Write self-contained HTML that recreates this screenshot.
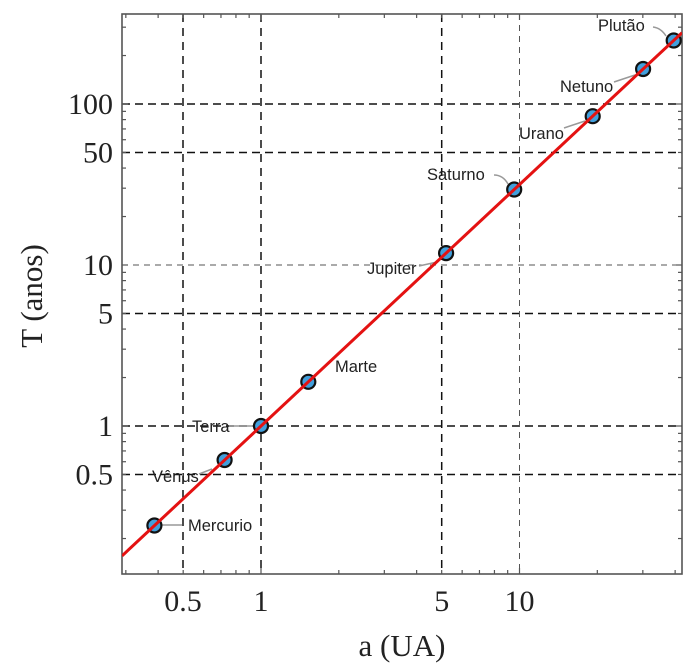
<!DOCTYPE html>
<html><head><meta charset="utf-8"><style>
html,body{margin:0;padding:0;background:#fff;}
svg{display:block;}
.tl{font-family:"Liberation Serif",serif;font-size:30px;fill:#222;}
.pl{font-family:"Liberation Sans",sans-serif;font-size:16.5px;fill:#222;}
</style></head><body>
<svg width="699" height="664" viewBox="0 0 699 664" xmlns="http://www.w3.org/2000/svg">
<rect width="699" height="664" fill="#fff"/>
<defs><clipPath id="c"><rect x="122" y="14" width="560" height="560"/></clipPath></defs>
<!-- grid -->
<g stroke="#111" stroke-width="1.5" stroke-dasharray="8 5" fill="none">
<line x1="122" y1="104" x2="682" y2="104"/>
<line x1="122" y1="152.5" x2="682" y2="152.5"/>
<line x1="122" y1="313.5" x2="682" y2="313.5"/>
<line x1="122" y1="426" x2="682" y2="426"/>
<line x1="122" y1="474.5" x2="682" y2="474.5"/>
</g>
<g stroke="#111" stroke-width="1.5" stroke-dasharray="8 6" fill="none">
<line x1="183" y1="14" x2="183" y2="574"/>
<line x1="261" y1="14" x2="261" y2="574"/>
<line x1="441.7" y1="14" x2="441.7" y2="574"/>
</g>
<g stroke="#555" stroke-width="1" stroke-dasharray="6 5" fill="none">
<line x1="122" y1="265" x2="682" y2="265"/>
<line x1="519.5" y1="14" x2="519.5" y2="574"/>
</g>
<!-- ticks -->
<g stroke="#555" stroke-width="1.2" id="ticks"></g>
<!-- frame -->
<rect x="122" y="14" width="560" height="560" fill="none" stroke="#555" stroke-width="1.6"/>
<!-- leaders -->
<g stroke="#999" stroke-width="1.5" fill="none">
<line x1="162" y1="525" x2="182" y2="525"/>
<line x1="199" y1="474" x2="212" y2="469"/>
<line x1="229" y1="426" x2="253" y2="426"/>
<line x1="419" y1="266" x2="437" y2="262"/>
<path d="M494 175 Q503 175 508 184"/>
<line x1="564" y1="128" x2="585" y2="121"/>
<line x1="614" y1="82" x2="635" y2="75"/>
<path d="M653 27 Q661 28 666 36"/>
</g>
<!-- points -->
<g fill="#419fdc" stroke="#111" stroke-width="2.2">
<circle cx="154.4" cy="525.5" r="7"/>
<circle cx="224.6" cy="460" r="7"/>
<circle cx="261" cy="426" r="7"/>
<circle cx="308.3" cy="381.8" r="7"/>
<circle cx="446.1" cy="253.1" r="7"/>
<circle cx="514.2" cy="189.5" r="7"/>
<circle cx="592.7" cy="116.2" r="7"/>
<circle cx="643.1" cy="69" r="7"/>
<circle cx="673.7" cy="40.5" r="7"/>
</g>
<!-- fit line -->
<line x1="122" y1="555.9" x2="682" y2="32.7" stroke="#e41212" stroke-width="3" clip-path="url(#c)"/>
<!-- planet labels -->
<text class="pl" x="188" y="531">Mercurio</text>
<text class="pl" x="152" y="482">Vênus</text>
<text class="pl" x="192" y="432">Terra</text>
<text class="pl" x="335" y="372">Marte</text>
<text class="pl" x="367" y="274">Jupiter</text>
<text class="pl" x="427" y="180">Saturno</text>
<text class="pl" x="519" y="139">Urano</text>
<text class="pl" x="560" y="92">Netuno</text>
<text class="pl" x="598" y="31">Plutão</text>
<!-- tick labels -->
<g class="tl" text-anchor="end">
<text x="113" y="114">100</text>
<text x="113" y="162.5">50</text>
<text x="113" y="275">10</text>
<text x="113" y="323.5">5</text>
<text x="113" y="436">1</text>
<text x="113" y="484.5">0.5</text>
</g>
<g class="tl" text-anchor="middle">
<text x="183" y="611">0.5</text>
<text x="261" y="611">1</text>
<text x="441.7" y="611">5</text>
<text x="519.5" y="611">10</text>
</g>
<text class="tl" x="402" y="656" text-anchor="middle" style="font-size:31px">a (UA)</text>
<text class="tl" transform="translate(42,296) rotate(-90)" text-anchor="middle" style="font-size:31px">T (anos)</text>
<script>
(function(){
var g=document.getElementById('ticks'),ns='http://www.w3.org/2000/svg';
function L(x1,y1,x2,y2){var l=document.createElementNS(ns,'line');l.setAttribute('x1',x1);l.setAttribute('y1',y1);l.setAttribute('x2',x2);l.setAttribute('y2',y2);g.appendChild(l);}
function X(a){return 261+258.5*Math.log10(a);}
function Y(t){return 426-161*Math.log10(t);}
var xs=[],ys=[];
[0.1,1,10].forEach(function(d){for(var k=1;k<10;k++){xs.push(k*d);}});
[0.1,1,10,100].forEach(function(d){for(var k=1;k<10;k++){ys.push(k*d);}});
xs.forEach(function(a){var x=X(a);if(x>123&&x<681){var n=(Math.abs(Math.log10(a)-Math.round(Math.log10(a)))<1e-6)?6:4;L(x,574,x,574-n);L(x,14,x,14+n);}});
ys.forEach(function(t){var y=Y(t);if(y>15&&y<573){var n=(Math.abs(Math.log10(t)-Math.round(Math.log10(t)))<1e-6)?6:4;L(122,y,122+n,y);L(682,y,682-n,y);}});
})();
</script>
</svg>
</body></html>
